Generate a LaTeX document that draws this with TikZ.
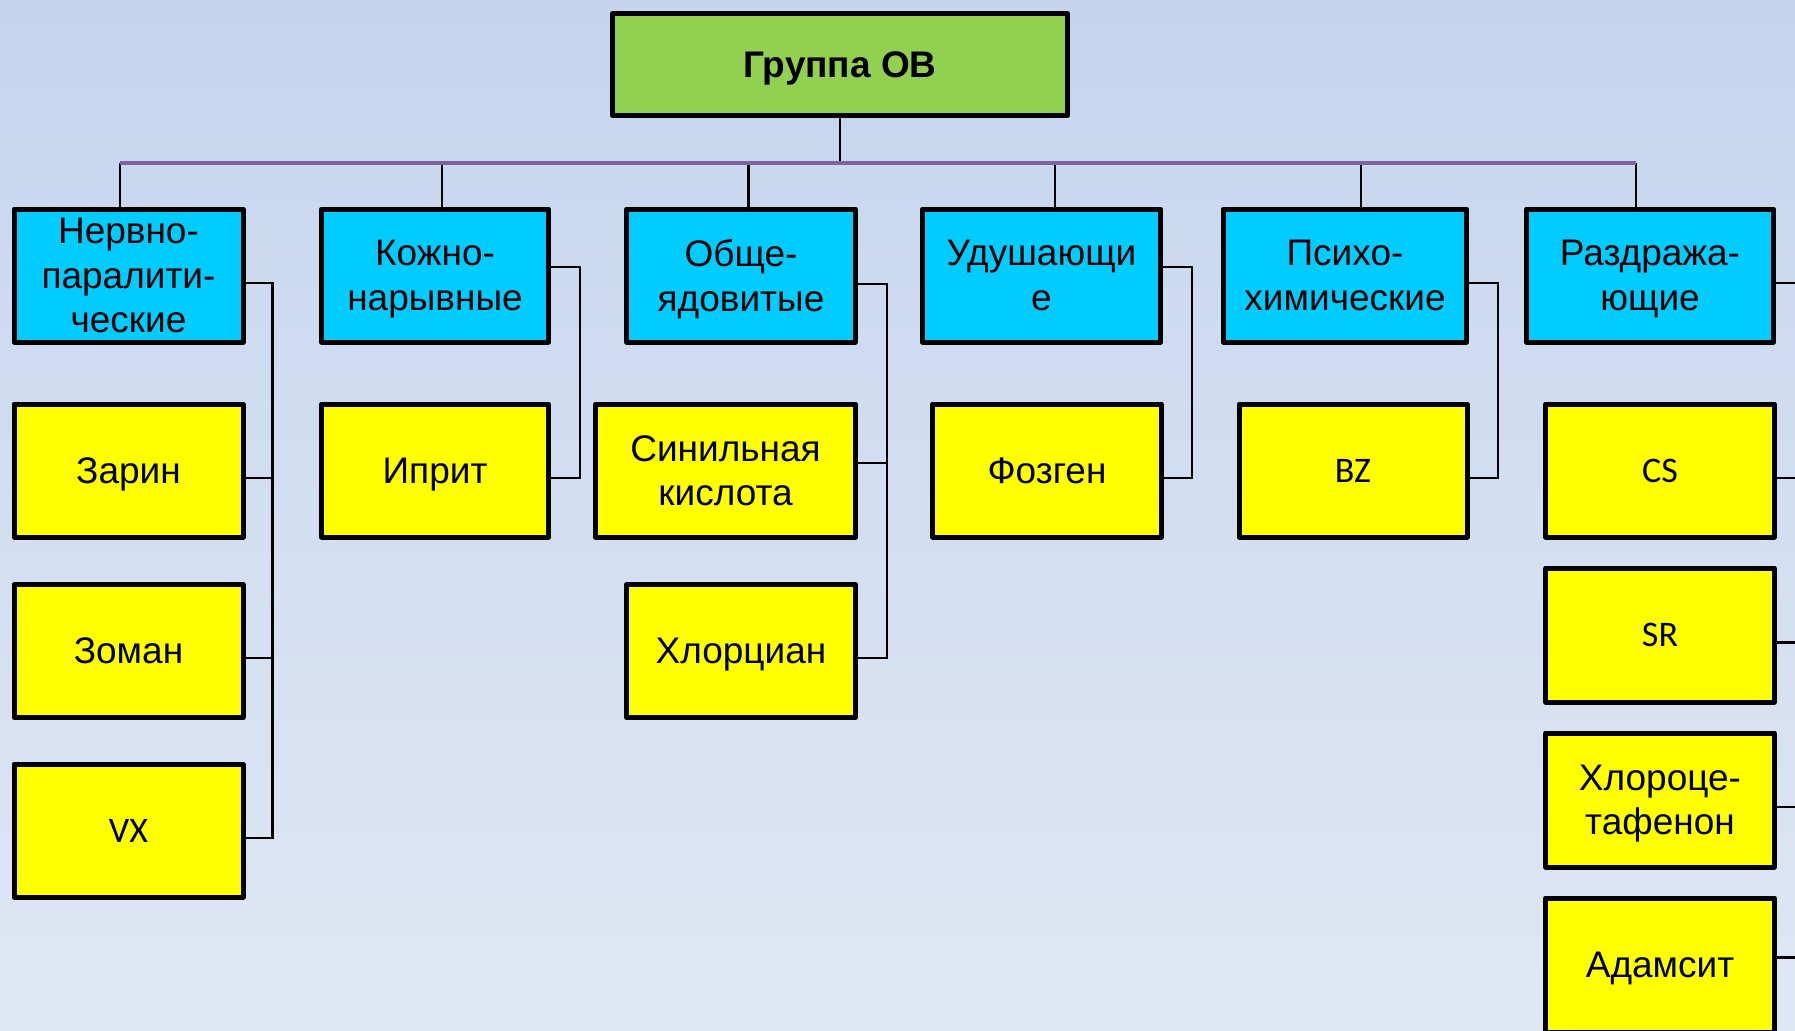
\documentclass[tikz,border=0pt]{standalone}
\usepackage{fontspec}
\setmainfont{Liberation Sans}
\newfontfamily\abbrfont{Carlito}
\usetikzlibrary{calc}
\pgfdeclarelayer{bg}
\pgfdeclarelayer{lines}
\pgfsetlayers{bg,lines,main}
\definecolor{topgreen}{HTML}{92D050}
\definecolor{catblue}{HTML}{00CCFF}
\definecolor{itemyellow}{HTML}{FFFF00}
\definecolor{busline}{HTML}{8064A2}
\definecolor{bgtop}{HTML}{C5D5EE}
\definecolor{bgbot}{HTML}{E0E7F4}
\begin{document}
\begin{tikzpicture}[x=1pt,y=-1pt,
  box/.style={draw=black,line width=5pt,line join=round,rectangle,align=center,inner sep=0pt,text depth=0pt,font=\fontsize{37}{44.5}\selectfont},
  topbox/.style={box,fill=topgreen,font=\fontsize{37}{44.5}\selectfont\bfseries},
  catbox/.style={box,fill=catblue},
  itembox/.style={box,fill=itemyellow},
  abbrev/.style={font=\abbrfont\fontsize{36}{42}\selectfont},
  conn/.style={draw=black,line width=2.5pt},
  bus/.style={draw=busline,line width=3.5pt}]
\useasboundingbox (0,0) rectangle (1795,1030);
\begin{pgfonlayer}{bg}
\shade[top color=bgtop,bottom color=bgbot] (0,0) rectangle (1795,1030);
\end{pgfonlayer}

% top
\node[topbox,minimum width=455pt,minimum height=102pt] (top) at (840,64.5) {Группа ОВ};

% categories
\node[catbox,minimum width=229pt,minimum height=133pt] (b1) at (128.5,275.5) {Нервно-\\паралити-\\ческие};
\node[catbox,minimum width=227pt,minimum height=133pt] (b2) at (435,275.5) {Кожно-\\нарывные};
\node[catbox,minimum width=228.5pt,minimum height=133pt] (b3) at (741,275.5) {Обще-\\ядовитые};
\node[catbox,minimum width=238pt,minimum height=133pt] (b4) at (1041.5,275.5) {Удушающи\\е};
\node[catbox,minimum width=243.5pt,minimum height=133pt] (b5) at (1345,275.5) {Психо-\\химические};
\node[catbox,minimum width=247pt,minimum height=133pt] (b6) at (1650,275.5) {Раздража-\\ющие};

% items
\node[itembox,minimum width=229pt,minimum height=133pt] (zarin) at (128.5,470.5) {Зарин};
\node[itembox,minimum width=229pt,minimum height=133pt] (zoman) at (128.5,651) {Зоман};
\node[itembox,abbrev,minimum width=229pt,minimum height=133pt] (vx) at (128.5,830.5) {VX};
\node[itembox,minimum width=227pt,minimum height=133pt] (iprit) at (435,470.5) {Иприт};
\node[itembox,minimum width=260pt,minimum height=133pt] (sin) at (725.5,470.5) {Синильная\\кислота};
\node[itembox,minimum width=228.5pt,minimum height=133pt] (hlc) at (741,651) {Хлорциан};
\node[itembox,minimum width=228.5pt,minimum height=133pt] (fos) at (1047,470.5) {Фозген};
\node[itembox,abbrev,minimum width=228pt,minimum height=133pt] (bz) at (1353,470.5) {BZ};
\node[itembox,abbrev,minimum width=228.5pt,minimum height=133pt] (cs) at (1660,470.5) {CS};
\node[itembox,abbrev,minimum width=228.5pt,minimum height=134pt] (sr) at (1660,635) {SR};
\node[itembox,minimum width=228.5pt,minimum height=134pt] (hlac) at (1660,800) {Хлороце-\\тафенон};
\node[itembox,minimum width=228.5pt,minimum height=134pt] (adam) at (1660,965) {Адамсит};

\begin{pgfonlayer}{lines}
% stem and bus
\coordinate (busL) at (120,163);
\coordinate (busR) at (1636,163);
\draw[conn] (top.south) -- (top.south |- busL);
\coordinate (d1) at ($(b1.north)+(-8.5,0)$);
\coordinate (d2) at ($(b2.north)+(7,0)$);
\coordinate (d3) at ($(b3.north)+(7.5,0)$);
\coordinate (d4) at ($(b4.north)+(13.5,0)$);
\coordinate (d5) at ($(b5.north)+(16,0)$);
\coordinate (d6) at ($(b6.north)+(-14,0)$);
\foreach \d in {d1,d2,d3,d4,d5,d6} {\draw[conn] (\d) -- (\d |- busL);}
\draw[bus] (busL) -- (busR);

% group 1
\draw[conn] ($(b1.east)+(0,7.5)$) -- ++(27,0) |- ($(vx.east)+(0,7.5)$);
\draw[conn] ($(zarin.east)+(0,7.5)$) -- ++(27,0);
\draw[conn] ($(zoman.east)+(0,7)$) -- ++(27,0);
% group 2
\draw[conn] ($(b2.east)+(0,-8.5)$) -- ++(29,0) |- ($(iprit.east)+(0,7.5)$);
% group 3
\draw[conn] ($(b3.east)+(0,8.5)$) -- ++(29,0) |- ($(hlc.east)+(0,7)$);
\draw[conn] ($(sin.east)+(0,-7.5)$) -- ++(29,0);
% group 4
\draw[conn] ($(b4.east)+(0,-8.5)$) -- ++(29,0) |- ($(fos.east)+(0,7.5)$);
% group 5
\draw[conn] ($(b5.east)+(0,7.5)$) -- ++(28.5,0) |- ($(bz.east)+(0,7.5)$);
% group 6
\draw[conn] ($(b6.east)+(0,7.5)$) -- ++(24,0) |- ($(adam.east)+(0,-7.5)$);
\draw[conn] ($(cs.east)+(0,7.5)$) -- ++(24,0);
\draw[conn] ($(sr.east)+(0,7.5)$) -- ++(24,0);
\draw[conn] ($(hlac.east)+(0,7)$) -- ++(24,0);
\end{pgfonlayer}
\end{tikzpicture}
\end{document}
